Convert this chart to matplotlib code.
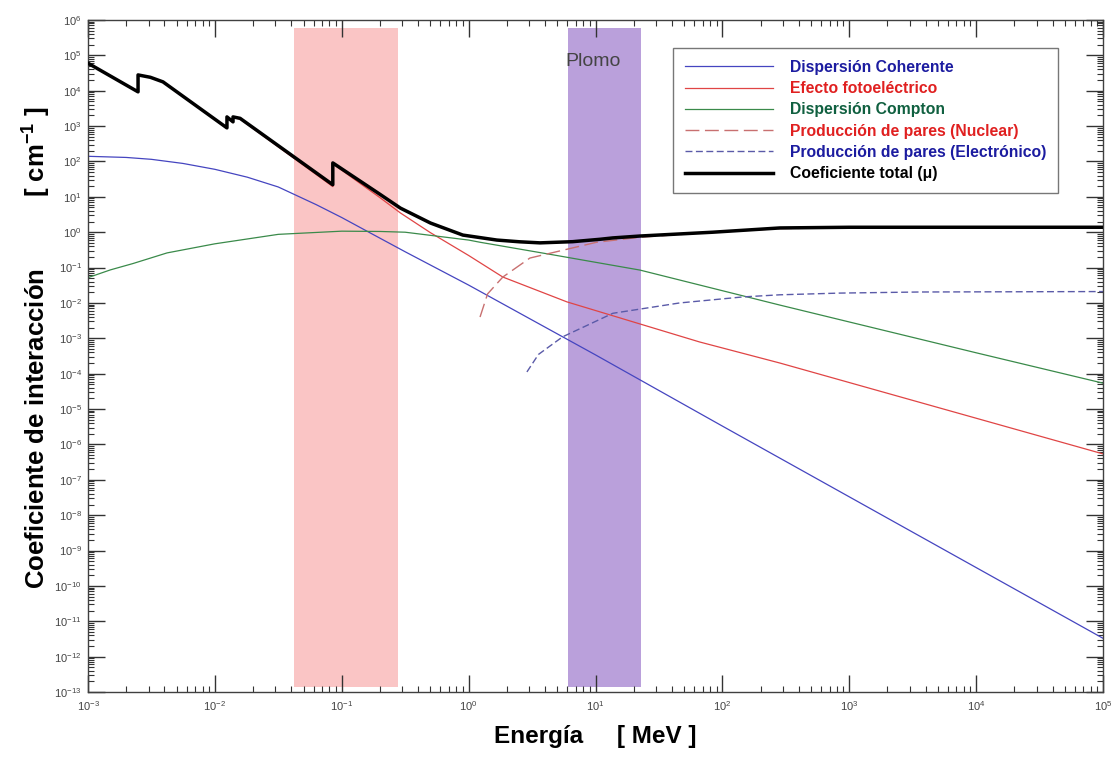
import numpy as np
import matplotlib
matplotlib.use("Agg")
import matplotlib.pyplot as plt
from matplotlib.ticker import LogLocator, NullFormatter
from matplotlib.transforms import blended_transform_factory

plt.rcParams['font.family'] = ['Liberation Sans', 'DejaVu Sans']
plt.rcParams['mathtext.fontset'] = 'custom'
plt.rcParams['mathtext.rm'] = 'Liberation Sans'
plt.rcParams['mathtext.it'] = 'Liberation Sans:italic'
plt.rcParams['mathtext.bf'] = 'Liberation Sans:bold'

# energias en MeV, coeficientes en cm^-1
coh_E = [1e-3, 2e-3, 3.16e-3, 5.6e-3, 1e-2, 1.8e-2, 3.16e-2, 6.3e-2, 1e-1, 1.58e-1, 3.16e-1,
         1.0, 3.16, 10, 100, 1e3, 1e4, 1e5]
coh_mu = [1.4e2, 1.3e2, 1.15e2, 8.8e1, 6.0e1, 3.6e1, 1.9e1, 6.0, 2.6, 1.07, 0.28,
          3.2e-2, 3.3e-3, 3.4e-4, 3.3e-6, 3.3e-8, 3.3e-10, 3.3e-12]

foto_E = [1e-3, 2.48e-3, 2.48e-3, 3.1e-3, 3.9e-3, 1.245e-2, 1.245e-2, 1.39e-2, 1.39e-2, 1.58e-2,
          8.5e-2, 8.5e-2, 2.0e-1, 2.9e-1, 5.0e-1, 1.0, 1.86, 5.96, 66, 284, 1e5]
foto_mu = [5.9e4, 9.1e3, 2.75e4, 2.35e4, 1.75e4, 8.6e2, 1.75e3, 1.27e3, 1.75e3, 1.58e3,
           1.95e1, 8.6e1, 9.5, 3.5, 0.97, 0.22, 5.4e-2, 1.07e-2, 7.9e-4, 2.0e-4, 5.4e-7]

comp_E = [1e-3, 1.5e-3, 2.26e-3, 4.2e-3, 1e-2, 3.16e-2, 1e-1, 2e-1, 3.16e-1, 1.0, 1.23, 4.6,
          22.4, 66.5, 284, 1e3, 1e4, 1e5]
comp_mu = [5.2e-2, 8.6e-2, 0.13, 0.26, 0.47, 0.87, 1.07, 1.05, 1.0, 0.6, 0.52, 0.23,
           8.5e-2, 3.2e-2, 8.7e-3, 2.9e-3, 3.9e-4, 5.4e-5]

nuc_E = [1.23, 1.41, 1.86, 3.04, 5.96, 10.2, 22.4, 63, 284, 1e3, 1e5]
nuc_mu = [4.0e-3, 1.8e-2, 5.4e-2, 0.186, 0.33, 0.52, 0.72, 0.93, 1.27, 1.33, 1.34]

elec_E = [2.88, 3.55, 5.5, 13.7, 46, 145, 284, 845, 3.6e3, 1e5]
elec_mu = [1.12e-4, 3.5e-4, 1.1e-3, 5.1e-3, 1.0e-2, 1.48e-2, 1.7e-2, 1.9e-2, 2.04e-2, 2.1e-2]

tot_E = [1e-3, 2.48e-3, 2.48e-3, 3.1e-3, 3.9e-3, 1.245e-2, 1.245e-2, 1.39e-2, 1.39e-2, 1.58e-2,
         8.5e-2, 8.5e-2, 2.0e-1, 2.9e-1, 5.0e-1, 9.0e-1, 1.67, 2.54, 3.65, 6.6, 10.8, 13.7, 22.4,
         84, 284, 1e3, 1e5]
tot_mu = [6.0e4, 9.3e3, 2.8e4, 2.4e4, 1.78e4, 8.9e2, 1.82e3, 1.32e3, 1.82e3, 1.66e3,
          2.2e1, 9.1e1, 1.18e1, 4.8, 1.82, 0.83, 0.60, 0.535, 0.50, 0.54, 0.63, 0.69, 0.78,
          1.0, 1.32, 1.38, 1.38]

etiquetas = ['Dispersión Coherente', 'Efecto fotoeléctrico', 'Dispersión Compton',
             'Producción de pares (Nuclear)', 'Producción de pares (Electrónico)',
             'Coeficiente total (μ)']

# bandas sombreadas (MeV)
banda_rosa = (0.042, 0.277)
banda_plomo = (6.07, 22.8)

fig = plt.figure(figsize=(11.12, 7.59), dpi=100)
ax = fig.add_axes([0.07914, 0.08827, 0.91277, 0.88538])
ax.set_xscale('log')
ax.set_yscale('log')
ax.set_xlim(1e-3, 1e5)
ax.set_ylim(1e-13, 1e6)

ax.axvspan(*banda_rosa, ymin=0.0074, ymax=0.988, color='#fac5c5', lw=0, zorder=0)
ax.axvspan(*banda_plomo, ymin=0.0074, ymax=0.988, color='#baa0db', lw=0, zorder=0)

ax.plot(coh_E, coh_mu, color='#4545c0', lw=0.9, label=etiquetas[0], zorder=2)
ax.plot(foto_E, foto_mu, color='#e04545', lw=0.9, label=etiquetas[1], zorder=2)
ax.plot(comp_E, comp_mu, color='#3a8a4a', lw=0.9, label=etiquetas[2], zorder=2)
ax.plot(nuc_E, nuc_mu, color='#c87070', lw=1.0, dashes=(10, 4), label=etiquetas[3], zorder=2)
ax.plot(elec_E, elec_mu, color='#5a5aa8', lw=1.0, dashes=(5, 2.5), label=etiquetas[4], zorder=2)
ax.plot(tot_E, tot_mu, color='black', lw=2.5, label=etiquetas[5], zorder=3)

trans = blended_transform_factory(ax.transData, ax.transAxes)
ax.text(9.6, 0.9375, 'Plomo', transform=trans, ha='center', va='center',
        fontsize=14, color='#444444')

# ejes y marcas
ax.xaxis.set_major_locator(LogLocator(base=10, numticks=20))
ax.yaxis.set_major_locator(LogLocator(base=10, numticks=30))
ax.xaxis.set_minor_locator(LogLocator(base=10, subs=np.arange(2, 10) * 1.0, numticks=200))
ax.yaxis.set_minor_locator(LogLocator(base=10, subs=np.arange(2, 10) * 1.0, numticks=200))
ax.xaxis.set_minor_formatter(NullFormatter())
ax.yaxis.set_minor_formatter(NullFormatter())
ax.tick_params(which='both', direction='in', top=True, right=True, color='#333333')
ax.tick_params(which='major', length=12, width=1)
ax.tick_params(which='minor', length=4.5, width=0.8)
ax.tick_params(axis='x', which='major', labelsize=8, labelcolor='#444444', pad=5.5)
ax.tick_params(axis='y', which='major', labelsize=8, labelcolor='#444444', pad=4.5)
for sp in ax.spines.values():
    sp.set_color('#404040')
    sp.set_linewidth(1)

ax.set_xlabel('Energía     [ MeV ]', fontsize=17.5, fontweight='bold')
ax.xaxis.set_label_coords(0.5, -0.049)
ax.set_ylabel('Coeficiente de interacción          [ cm$^{\\mathbf{-1}}$ ]',
              fontsize=18.5, fontweight='bold')
ax.yaxis.set_label_coords(-0.034, 0.513)

leg = ax.legend(loc='upper left', bbox_to_anchor=(0.5764, 0.9583), borderaxespad=0,
                prop={'size': 11.3, 'weight': 'bold'}, handlelength=5.6,
                handletextpad=1.1, labelspacing=0.4, borderpad=0.75,
                fancybox=False, edgecolor='#777777', framealpha=1)
leg.get_frame().set_linewidth(1)
colores_texto = ['#1c1ca0', '#e02020', '#106040', '#e02020', '#1c1ca0', 'black']
for t, c in zip(leg.get_texts(), colores_texto):
    t.set_color(c)

fig.savefig('out.png', dpi=100)
